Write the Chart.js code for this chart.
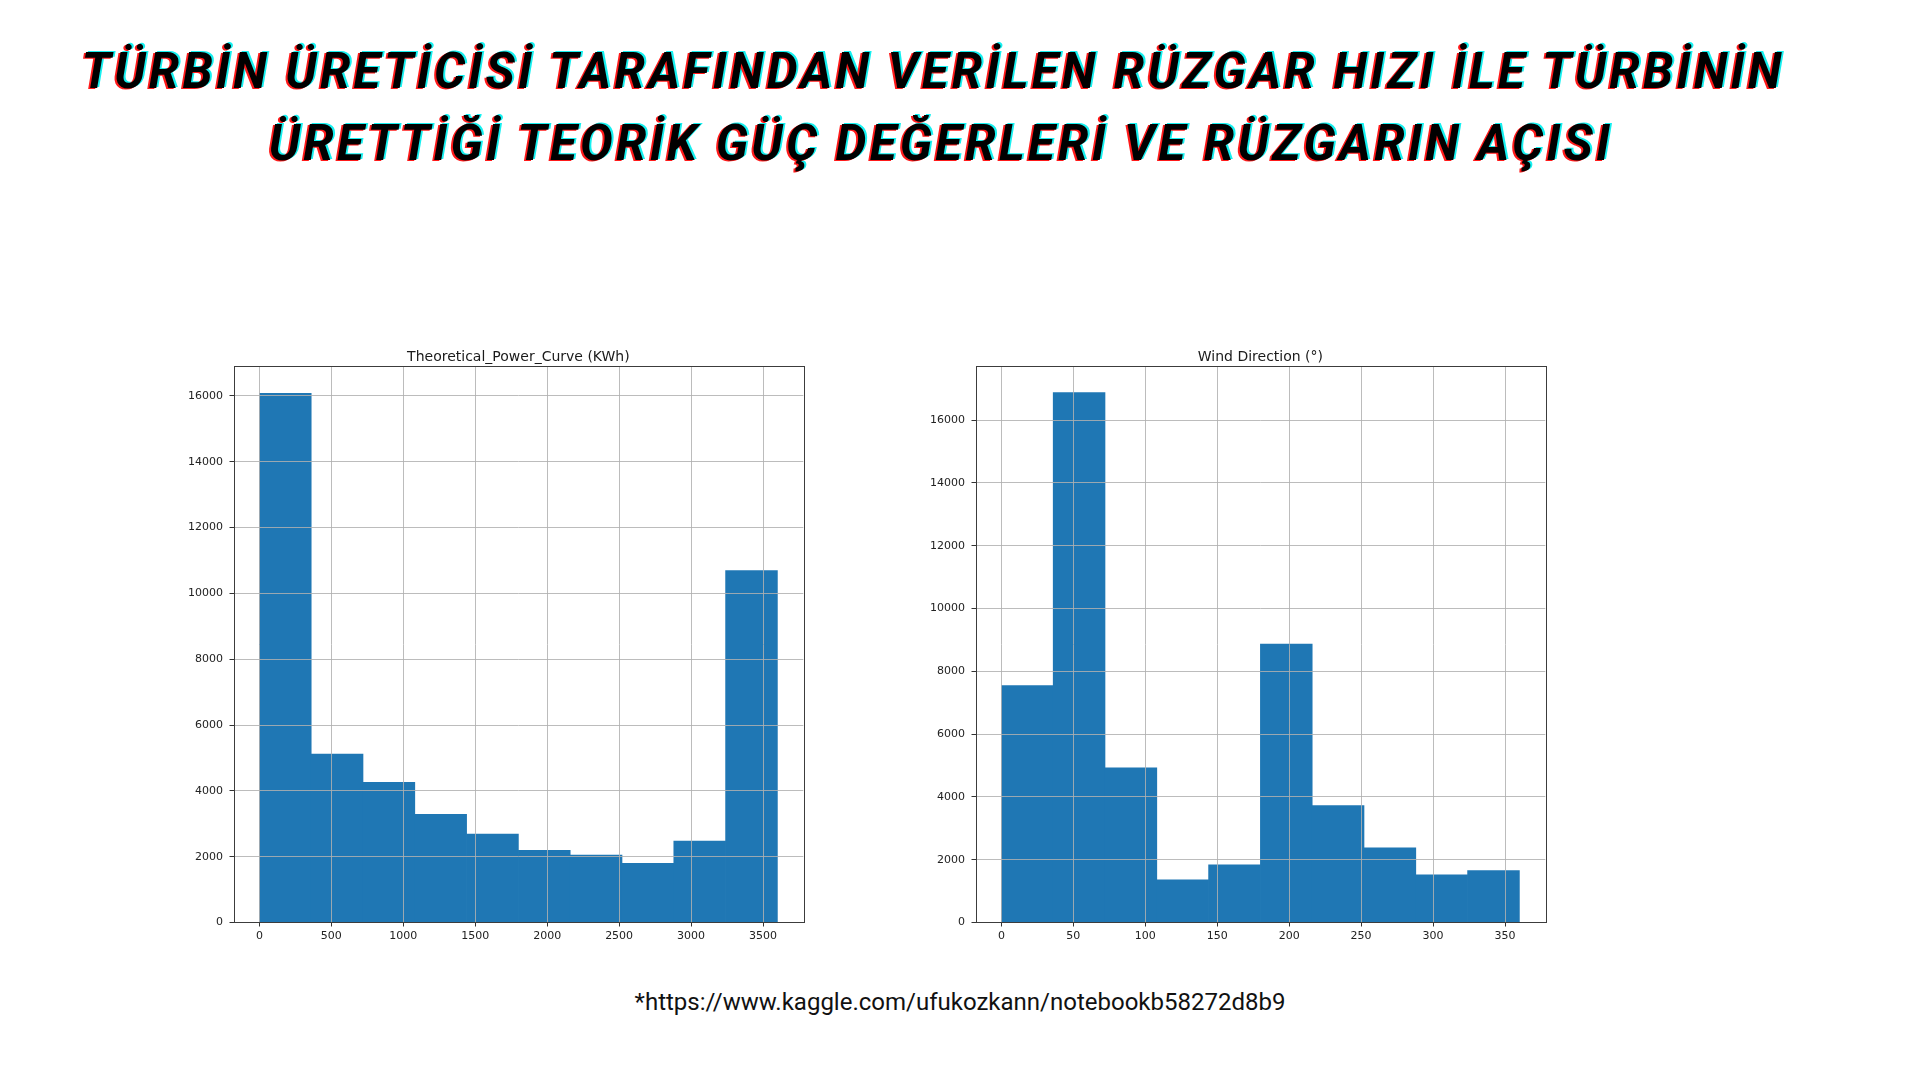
<!DOCTYPE html>
<html lang="tr">
<head>
<meta charset="utf-8">
<title>Türbin Güç Eğrisi ve Rüzgar Açısı</title>
<script src="https://cdn.jsdelivr.net/npm/chart.js@4.4.0/dist/chart.umd.min.js"></script>
<style>
  body { margin: 0; width: 1920px; height: 1080px; background: #fff; position: relative; overflow: hidden; }
  #baslik {
    position: absolute; left: 0; top: 35.5px; width: 1866px; text-align: center;
    font-family: Roboto, sans-serif; font-weight: 700; font-style: italic;
    font-size: 49px; line-height: 72px; letter-spacing: 3.25px; color: #000;
    text-shadow: -2px 1px 0 #ff1a1a, 2px -1px 0 #16f0f0;
    white-space: nowrap;
  }
  #baslik .ikinci { position: relative; left: 8px; }
  .kutu { position: absolute; top: 330px; width: 660px; height: 630px; }
  #kaynak {
    position: absolute; left: 0; top: 988px; width: 1920px; text-align: center;
    font-family: Roboto, sans-serif; font-size: 24px; line-height: 28px; color: #111;
  }
</style>
</head>
<body>

<div id="baslik">
  <div>TÜRBİN ÜRETİCİSİ TARAFINDAN VERİLEN RÜZGAR HIZI İLE TÜRBİNİN</div>
  <div class="ikinci">ÜRETTİĞİ TEORİK GÜÇ DEĞERLERİ VE RÜZGARIN AÇISI</div>
</div>

<div class="kutu" style="left:160px"><canvas id="gucChart" width="660" height="630"></canvas></div>
<div class="kutu" style="left:902px"><canvas id="yonChart" width="660" height="630"></canvas></div>

<div id="kaynak">*https://www.kaggle.com/ufukozkann/notebookb58272d8b9</div>

<script>
// --- Veriler (histogram kutularının orta noktaları ve sayıları) ---
const gucBins = [180, 540, 900, 1260, 1620, 1980, 2340, 2700, 3060, 3420];
const gucCounts = [16081, 5115, 4255, 3288, 2687, 2195, 2045, 1798, 2470, 10695];
const gucXTicks = [0, 500, 1000, 1500, 2000, 2500, 3000, 3500];
const gucXRange = [-180, 3780];
const gucYMax = 16905;

const yonBins = [18, 54, 90, 126, 162, 198, 234, 270, 306, 342];
const yonCounts = [7545, 16875, 4925, 1362, 1840, 8870, 3720, 2378, 1518, 1650];
const yonXTicks = [0, 50, 100, 150, 200, 250, 300, 350];
const yonXRange = [-18, 378];
const yonYMax = 17720;

const yTicks = [0, 2000, 4000, 6000, 8000, 10000, 12000, 14000, 16000];

// matplotlib tarzı çerçeve (dört kenar)
const cerceve = {
  id: 'cerceve',
  afterDraw(chart) {
    const { ctx, chartArea: a } = chart;
    ctx.save();
    ctx.strokeStyle = '#3c3c3c';
    ctx.lineWidth = 1;
    ctx.strokeRect(Math.round(a.left) + 0.5, Math.round(a.top) + 0.5,
      Math.round(a.right - a.left), Math.round(a.bottom - a.top));
    ctx.restore();
  }
};

const tickFont = { family: "'DejaVu Sans', sans-serif", size: 11 };

function histogram(id, bins, counts, xRange, xTicks, yMax, baslik) {
  const ctx = document.getElementById(id);
  return new Chart(ctx, {
    type: 'bar',
    data: {
      datasets: [{
        data: bins.map((b, i) => ({ x: b, y: counts[i] })),
        backgroundColor: '#1f77b4',
        borderWidth: 0,
        barPercentage: 1,
        categoryPercentage: 1
      }]
    },
    options: {
      responsive: false,
      animation: false,
      layout: { padding: { top: 18.6, right: 16.7, left: 0, bottom: 0 } },
      plugins: {
        legend: { display: false },
        tooltip: { enabled: false },
        title: {
          display: true,
          text: baslik,
          fullSize: false,
          color: '#1a1a1a',
          font: { family: "'DejaVu Sans', sans-serif", size: 14, weight: 'normal', lineHeight: 1.2 },
          padding: { top: 0, bottom: 0.7 }
        }
      },
      scales: {
        x: {
          type: 'linear',
          offset: false,
          min: xRange[0],
          max: xRange[1],
          afterBuildTicks: (axis) => { axis.ticks = xTicks.map(v => ({ value: v })); },
          afterFit: (axis) => { axis.height = 37.5; },
          grid: { offset: false, z: 1, color: 'rgba(176,176,176,0.85)', lineWidth: 1, tickColor: '#333', tickLength: 4 },
          border: { display: false },
          ticks: { color: '#222', font: tickFont, padding: 3, maxRotation: 0, callback: v => v }
        },
        y: {
          min: 0,
          max: yMax,
          afterBuildTicks: (axis) => { axis.ticks = yTicks.map(v => ({ value: v })); },
          afterFit: (axis) => { axis.width = 73.5; },
          grid: { z: 1, color: 'rgba(176,176,176,0.85)', lineWidth: 1, tickColor: '#333', tickLength: 4 },
          border: { display: false },
          ticks: { color: '#222', font: tickFont, padding: 6.5, callback: v => v }
        }
      }
    },
    plugins: [cerceve]
  });
}

histogram('gucChart', gucBins, gucCounts, gucXRange, gucXTicks, gucYMax, 'Theoretical_Power_Curve (KWh)');
histogram('yonChart', yonBins, yonCounts, yonXRange, yonXTicks, yonYMax, 'Wind Direction (°)');
</script>
</body>
</html>
